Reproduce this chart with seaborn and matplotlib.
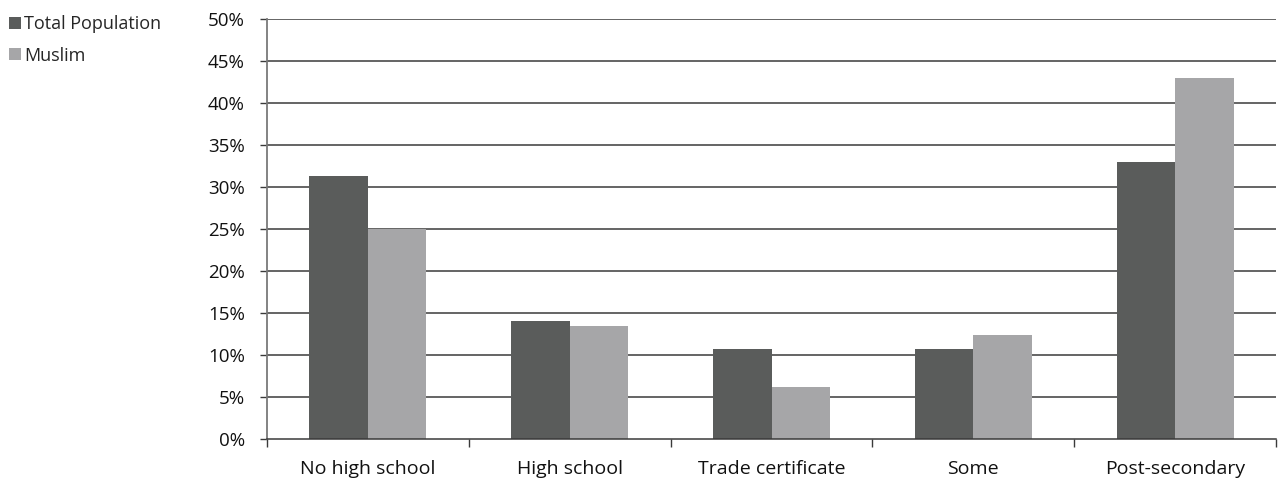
import matplotlib
matplotlib.use("Agg")
import matplotlib.pyplot as plt
import seaborn as sns
import pandas as pd
from matplotlib.patches import Patch
from matplotlib.ticker import FuncFormatter, FixedLocator

categories = ["No high school", "High school", "Trade certificate", "Some", "Post-secondary"]
total_population = [31.3, 14.0, 10.7, 10.7, 33.0]
muslim = [25.0, 13.5, 6.2, 12.4, 43.0]
series_names = ["Total Population", "Muslim"]
colors = ["#5a5c5b", "#a6a6a8"]

df = pd.DataFrame({
    "category": categories * 2,
    "value": total_population + muslim,
    "series": [series_names[0]] * len(categories) + [series_names[1]] * len(categories),
})

sns.set_theme(style="white")
plt.rcParams["font.family"] = ["Open Sans", "DejaVu Sans"]

fig = plt.figure(figsize=(12.8, 4.82), dpi=100)
ax = fig.add_axes([267 / 1280, 1 - 439 / 482, (1276 - 267) / 1280, (439 - 19) / 482])

sns.barplot(data=df, x="category", y="value", hue="series", order=categories,
            hue_order=series_names, palette=colors, width=0.58, gap=0,
            saturation=1, ax=ax, legend=False, linewidth=0, zorder=3)

ax.set_xlim(-0.5, len(categories) - 0.5)
ax.set_ylim(0, 50)
ax.set_yticks(range(0, 51, 5))
ax.yaxis.set_major_formatter(FuncFormatter(lambda v, p: f"{int(v)}%"))
ax.set_xlabel("")
ax.set_ylabel("")

for y in range(5, 51, 5):
    ax.axhline(y, color="#3a3a3a", lw=1.1, zorder=1)

ax.spines["top"].set_visible(False)
ax.spines["right"].set_visible(False)
ax.spines["left"].set_color("#7a7a7a")
ax.spines["left"].set_linewidth(1.3)
ax.spines["bottom"].set_color("#3a3a3a")
ax.spines["bottom"].set_linewidth(1.1)
ax.spines["bottom"].set_zorder(4)

ax.tick_params(axis="y", which="major", left=True, length=5, width=1, color="#3a3a3a",
               pad=11, labelsize=13.5, labelcolor="#111111")
ax.tick_params(axis="x", which="major", bottom=False, length=0, pad=15,
               labelsize=14, labelcolor="#111111")
ax.xaxis.set_minor_locator(FixedLocator([i + 0.5 for i in range(-1, len(categories))]))
ax.tick_params(axis="x", which="minor", bottom=True, length=6, width=1, color="#3a3a3a")

handles = [Patch(facecolor=c, edgecolor="none") for c in colors]
fig.legend(handles, series_names, loc="upper left", bbox_to_anchor=(-0.003, 0.995),
           frameon=False, fontsize=13, handlelength=0.65, handleheight=0.65,
           handletextpad=0.2, labelspacing=0.75, borderaxespad=0.3)

fig.savefig("out.png", dpi=100)
